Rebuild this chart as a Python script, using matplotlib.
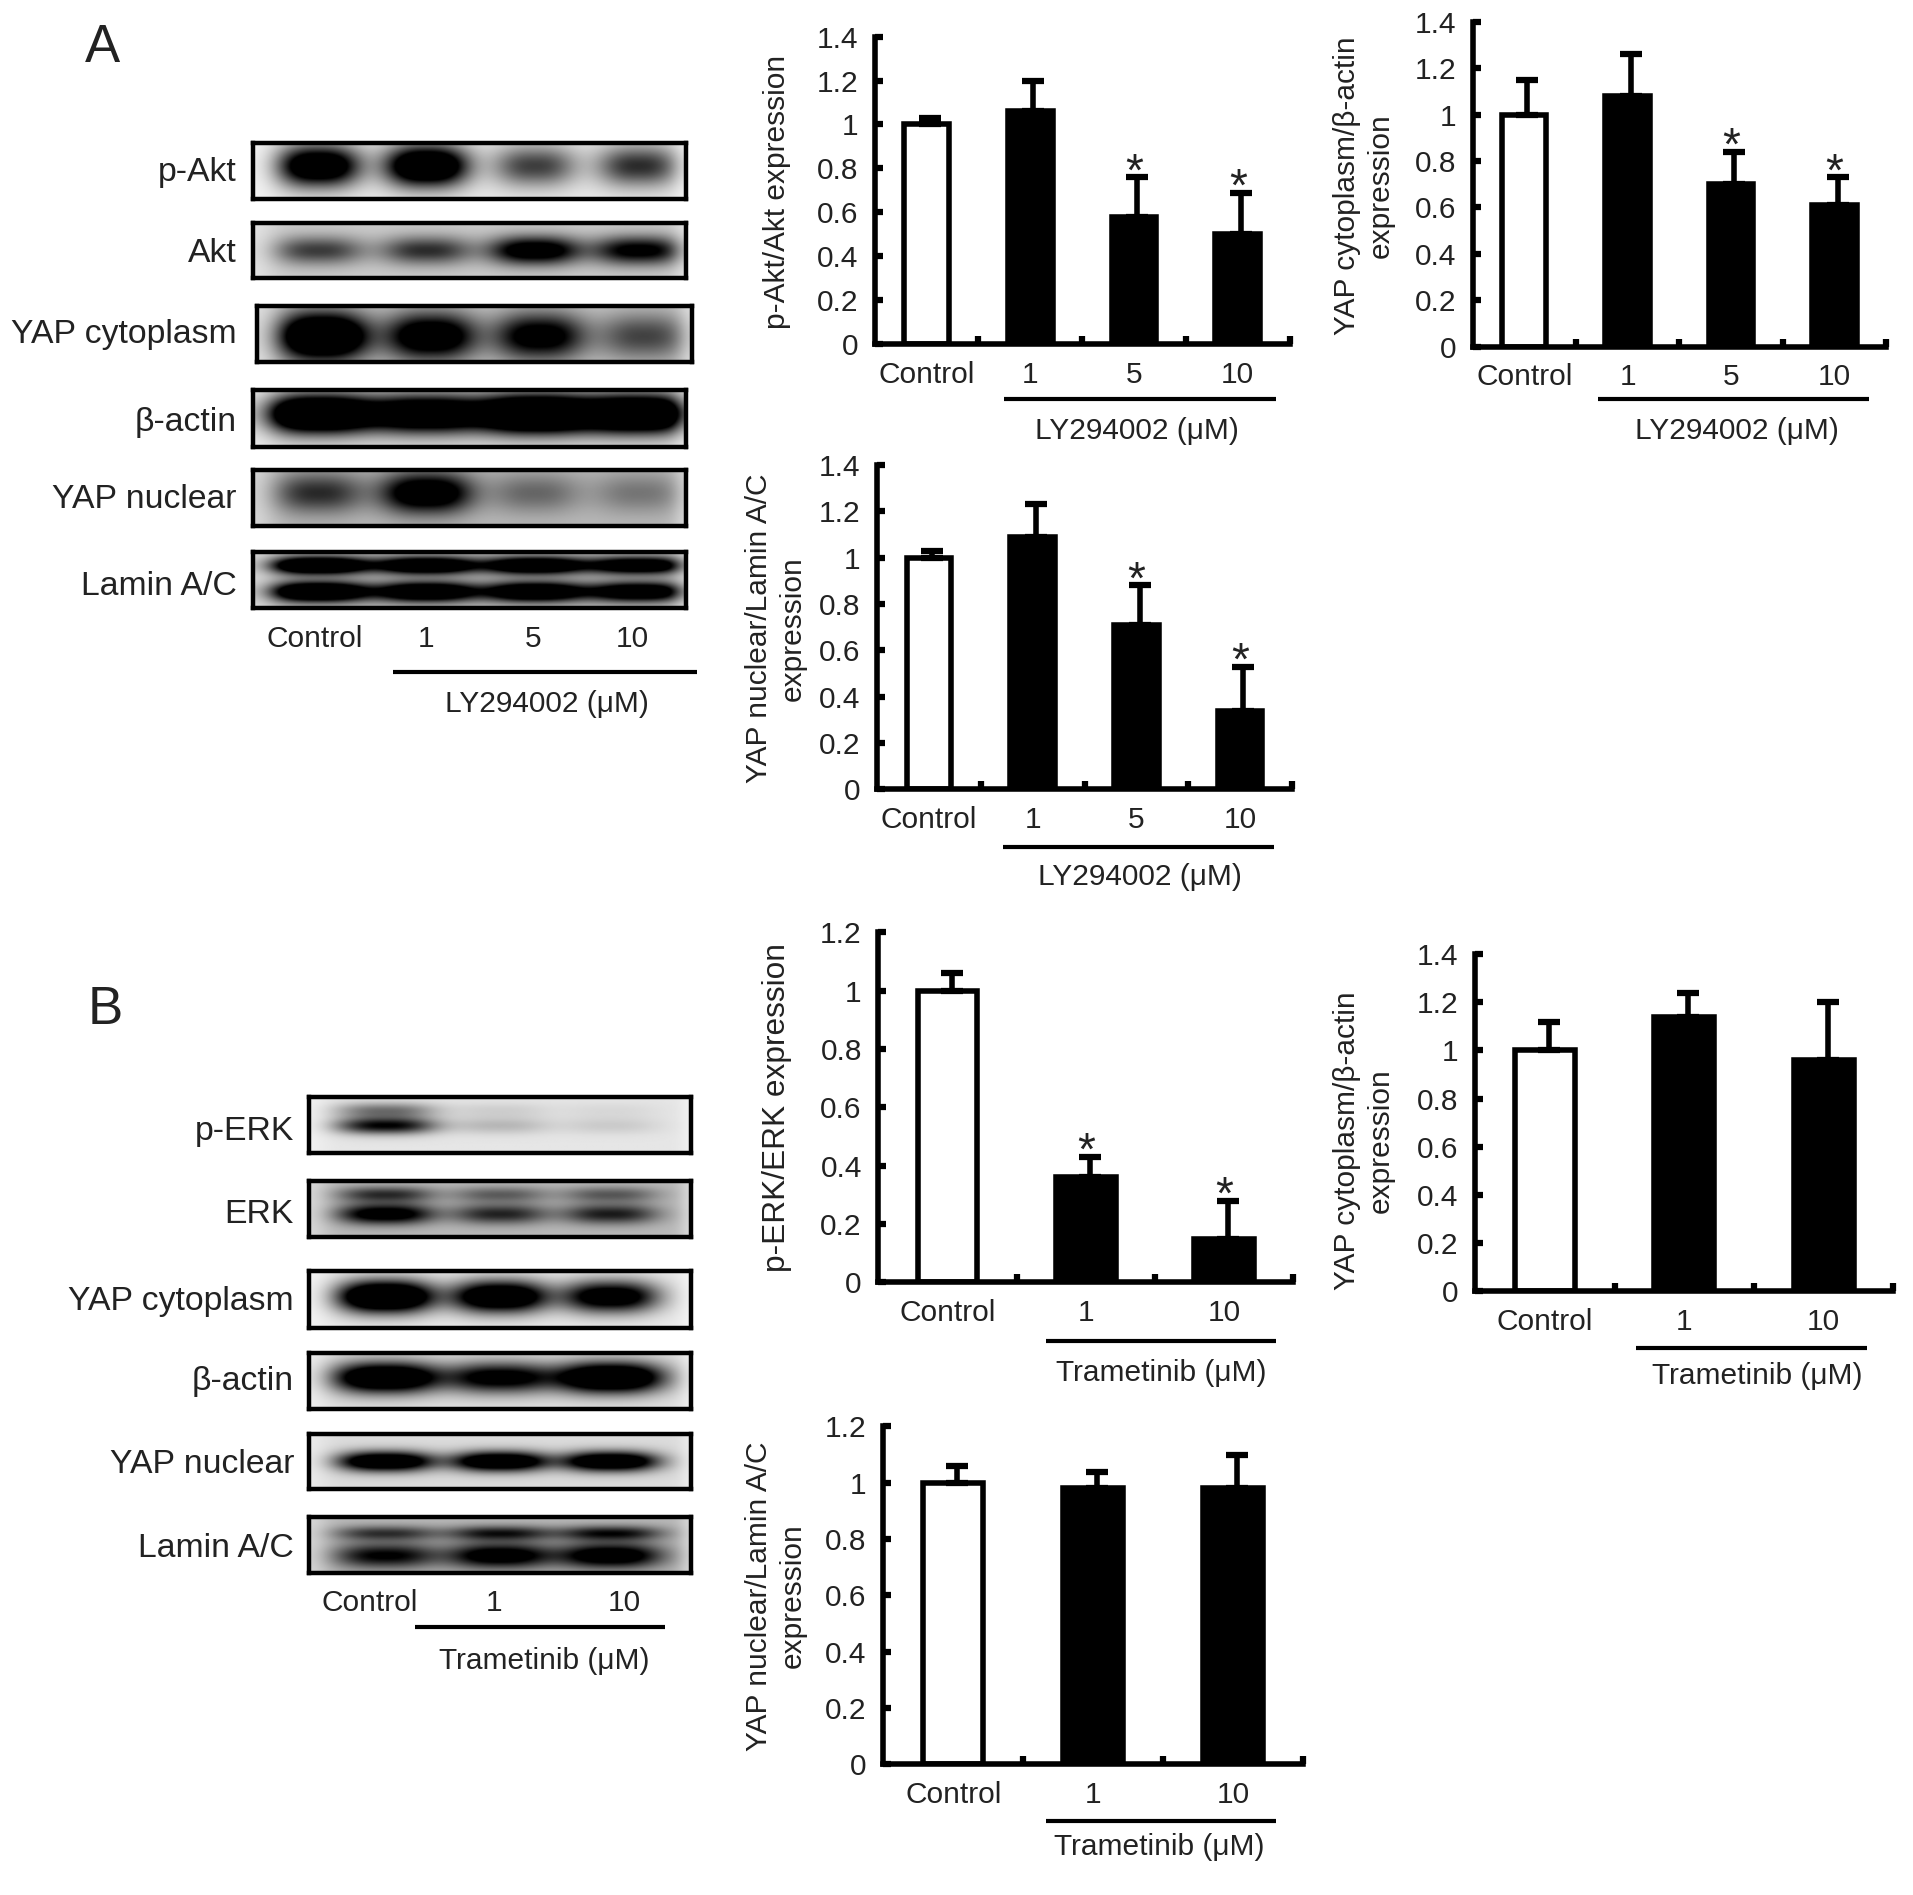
import numpy as np
import matplotlib
matplotlib.use('Agg')
import matplotlib.pyplot as plt

plt.rcParams['font.family'] = ['Liberation Sans', 'DejaVu Sans']

W, H = 1913, 1895
SHOWN_W, SHOWN_H = 1568, 1553
TEXT = '#222222'
FS = 21.5
FS_BLOT = 24.3

# densitometry values
groups_a = ['Control', '1', '5', '10']
groups_b = ['Control', '1', '10']

akt_vals = [1.0, 1.06, 0.58, 0.50]
akt_tops = [1.03, 1.20, 0.76, 0.69]
yap_cyto_a_vals = [1.0, 1.08, 0.70, 0.61]
yap_cyto_a_tops = [1.15, 1.26, 0.84, 0.73]
yap_nuc_a_vals = [1.0, 1.09, 0.71, 0.34]
yap_nuc_a_tops = [1.03, 1.23, 0.88, 0.53]
erk_vals = [1.0, 0.36, 0.15]
erk_tops = [1.06, 0.43, 0.28]
yap_cyto_b_vals = [1.0, 1.14, 0.96]
yap_cyto_b_tops = [1.12, 1.24, 1.20]
yap_nuc_b_vals = [1.0, 0.98, 0.98]
yap_nuc_b_tops = [1.06, 1.04, 1.10]

# blot lanes: fraction across the box
lanes_a = [0.15, 0.40, 0.65, 0.89]
lanes_b = [0.20, 0.50, 0.79]


def shown_axes(fig, x0, x1, y_top, y_bot):
    """Axes from a box given in the 1568 wide coordinates."""
    return fig.add_axes([x0 / SHOWN_W, 1 - y_bot / SHOWN_H,
                         (x1 - x0) / SHOWN_W, (y_bot - y_top) / SHOWN_H])


def bar_panel(fig, box, vals, tops, ymax, groups, stars):
    x0, x1, y_top, y_bot = box
    ax = shown_axes(fig, x0, x1, y_top, y_bot)
    n = len(vals)
    pos = np.arange(n) + 0.5
    colors = ['white'] + ['black'] * (n - 1)
    ax.bar(pos, vals, width=0.43, color=colors, edgecolor='black', linewidth=4)
    errs = np.array(tops) - np.array(vals)
    ax.errorbar(pos + 0.03, vals, yerr=[np.zeros(n), errs], fmt='none', ecolor='black',
                elinewidth=4, capsize=8, capthick=4.5, zorder=1)
    for i in stars:
        ax.annotate('*', (pos[i], tops[i]), xytext=(0, -13), textcoords='offset points',
                    ha='center', va='bottom', fontsize=33, color=TEXT)
    ax.set_xlim(0, n)
    ax.set_ylim(0, ymax)
    ticks = np.arange(0, ymax + 0.01, 0.2)
    ax.set_yticks(ticks)
    ax.set_yticklabels(['%g' % round(t, 1) for t in ticks], fontsize=FS, color=TEXT)
    ax.set_xticks(np.arange(1, n + 1))
    ax.set_xticklabels([])
    ax.set_xticks(pos, minor=True)
    ax.set_xticklabels(groups, minor=True, fontsize=FS, color=TEXT)
    ax.tick_params(axis='both', which='major', direction='in', length=6, width=4.5, pad=12)
    ax.tick_params(axis='x', which='minor', length=0, pad=12)
    for s in ['top', 'right']:
        ax.spines[s].set_visible(False)
    for s in ['left', 'bottom']:
        ax.spines[s].set_linewidth(4)
    ax.patch.set_alpha(0)
    return ax


def blot(fig, box, lanes, dark, bands, bg, lane_w):
    """One western blot strip; bands is a list of (y fraction, y spread, weight)."""
    x0, x1, y_top, y_bot = box
    ax = shown_axes(fig, x0, x1, y_top, y_bot)
    xx, yy = np.meshgrid(np.linspace(0, 1, 360), np.linspace(0, 1, 60))
    img = np.full(xx.shape, float(bg))
    for c, d in zip(lanes, dark):
        for yc, sy, w in bands:
            shape = np.exp(-(np.abs(xx - c) / lane_w) ** 2.6) * np.exp(-((yy - yc) / sy) ** 2)
            img += 1.5 * d * w * shape
    edge = np.exp(-(xx / 0.05) ** 2) + np.exp(-((1 - xx) / 0.03) ** 2)
    img = img * (1 - 0.4 * edge)
    ax.imshow(1 - np.clip(img, 0, 1), cmap='gray', vmin=0, vmax=1, aspect='auto',
              extent=(0, 1, 1, 0), interpolation='bilinear')
    ax.set_xticks([])
    ax.set_yticks([])
    for s in ax.spines.values():
        s.set_linewidth(3.2)


fig = plt.figure(figsize=(W / 100, H / 100), dpi=100)

bar_panel(fig, (717, 1057, 30, 282), akt_vals, akt_tops, 1.4, groups_a, [2, 3])
bar_panel(fig, (1207, 1546, 18, 284), yap_cyto_a_vals, yap_cyto_a_tops, 1.4, groups_a, [2, 3])
bar_panel(fig, (719, 1059, 381, 647), yap_nuc_a_vals, yap_nuc_a_tops, 1.4, groups_a, [2, 3])
bar_panel(fig, (720, 1060, 764, 1051), erk_vals, erk_tops, 1.2, groups_b, [1, 2])
bar_panel(fig, (1209, 1552, 782, 1058), yap_cyto_b_vals, yap_cyto_b_tops, 1.4, groups_b, [])
bar_panel(fig, (724, 1068, 1169, 1446), yap_nuc_b_vals, yap_nuc_b_tops, 1.2, groups_b, [])

# blots, panel A
blot(fig, (207, 562, 117, 163), lanes_a, [0.9, 1.0, 0.45, 0.5], [(0.42, 0.36, 1)], 0.08, 0.095)
blot(fig, (207, 562, 183, 228), lanes_a, [0.38, 0.42, 0.7, 0.6], [(0.5, 0.26, 1)], 0.2, 0.105)
blot(fig, (211, 567, 251, 297), lanes_a, [1.0, 0.75, 0.65, 0.36], [(0.55, 0.42, 1)], 0.2, 0.105)
blot(fig, (207, 562, 320, 366), lanes_a, [1.2, 1.0, 1.3, 1.2], [(0.42, 0.33, 1)], 0.12, 0.13)
blot(fig, (207, 562, 385, 431), lanes_a, [0.38, 0.7, 0.22, 0.18], [(0.42, 0.36, 1)], 0.27, 0.105)
blot(fig, (207, 562, 452, 498), lanes_a, [1.0, 0.9, 0.9, 0.8],
     [(0.25, 0.15, 1), (0.72, 0.17, 1)], 0.25, 0.115)

# blots, panel B
blot(fig, (253, 566, 899, 945), lanes_b, [0.6, 0.12, 0.07],
     [(0.52, 0.15, 1), (0.25, 0.14, 0.5)], 0.1, 0.13)
blot(fig, (253, 566, 968, 1014), lanes_b, [0.62, 0.4, 0.42],
     [(0.6, 0.18, 1), (0.25, 0.14, 0.6)], 0.27, 0.125)
blot(fig, (253, 566, 1042, 1088), lanes_b, [1.1, 0.95, 0.8], [(0.45, 0.28, 1)], 0.08, 0.125)
blot(fig, (253, 566, 1109, 1155), lanes_b, [0.95, 0.7, 1.0], [(0.45, 0.27, 1)], 0.12, 0.14)
blot(fig, (253, 566, 1175, 1220), lanes_b, [0.9, 0.9, 0.9], [(0.5, 0.18, 1)], 0.14, 0.125)
blot(fig, (253, 566, 1243, 1289), lanes_b, [0.5, 0.62, 0.65],
     [(0.3, 0.13, 0.7), (0.7, 0.22, 1)], 0.28, 0.135)

# everything else sits on a page axes in the 1568 wide coordinates
page = fig.add_axes([0, 0, 1, 1], zorder=5)
page.set_xlim(0, SHOWN_W)
page.set_ylim(SHOWN_H, 0)
page.axis('off')


def label(x, y, s, ha='center', rot=0, fs=FS):
    page.text(x, y, s, ha=ha, va='center', rotation=rot, fontsize=fs, color=TEXT,
              linespacing=1.25)


page.text(84, 39, 'A', ha='center', va='center', fontsize=38, color=TEXT)
page.text(86, 828, 'B', ha='center', va='center', fontsize=38, color=TEXT)

names_a = ['p-Akt', 'Akt', 'YAP cytoplasm', 'β-actin', 'YAP nuclear', 'Lamin A/C']
names_a_y = [141, 208, 274, 346, 409, 481]
names_b = ['p-ERK', 'ERK', 'YAP cytoplasm', 'β-actin', 'YAP nuclear', 'Lamin A/C']
names_b_y = [927, 995, 1067, 1132, 1200, 1269]
for s, y in zip(names_a, names_a_y):
    label(194, y, s, ha='right', fs=FS_BLOT)
for s, y in zip(names_b, names_b_y):
    label(241, y, s, ha='right', fs=FS_BLOT)

for s, x in zip(groups_a, [258, 349, 437, 518]):
    label(x, 524, s)
for s, x in zip(groups_b, [303, 405, 512]):
    label(x, 1314, s)

label(637, 157, 'p-Akt/Akt expression', rot=90)
label(1118, 152, 'YAP cytoplasm/β-actin\nexpression', rot=90)
label(636, 515, 'YAP nuclear/Lamin A/C\nexpression', rot=90)
label(637, 908, 'p-ERK/ERK expression', rot=90, fs=22.8)
label(1118, 935, 'YAP cytoplasm/β-actin\nexpression', rot=90)
label(636, 1308, 'YAP nuclear/Lamin A/C\nexpression', rot=90)

ly = 'LY294002 (μM)'
tr = 'Trametinib (μM)'
brackets = [
    (322, 571, 551, 448, 577, ly),
    (823, 1046, 327, 932, 353, ly),
    (1310, 1532, 327, 1424, 353, ly),
    (822, 1044, 694, 934, 719, ly),
    (340, 545, 1333, 446, 1361, tr),
    (857, 1046, 1099, 952, 1125, tr),
    (1341, 1530, 1105, 1440, 1128, tr),
    (857, 1046, 1492, 950, 1514, tr),
]
for x0, x1, y, tx, ty, s in brackets:
    page.plot([x0, x1], [y, y], color='black', lw=3, solid_capstyle='butt')
    label(tx, ty, s)

fig.savefig('out.png', dpi=100, facecolor='white')
plt.close(fig)
